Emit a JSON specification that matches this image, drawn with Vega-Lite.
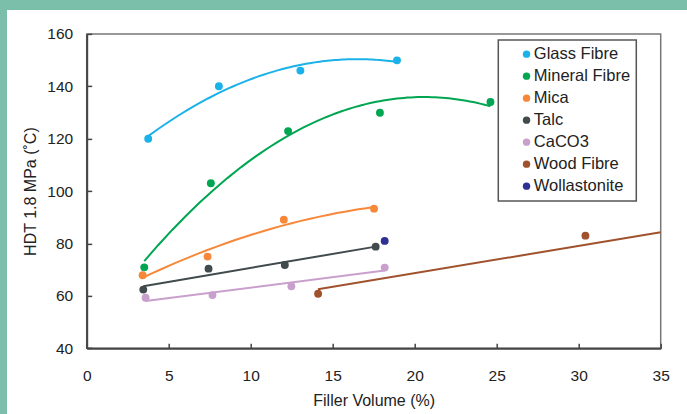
{
  "$schema": "https://vega.github.io/schema/vega-lite/v6.json",
  "width": 574,
  "height": 314.4,
  "autosize": {"type": "none"},
  "padding": {"left": 86.7, "top": 33.9, "right": 26.3, "bottom": 65.7},
  "background": "#7bbeaa",
  "config": {
    "font": "Liberation Sans",
    "view": {"stroke": null},
    "axis": {
      "grid": false,
      "domainColor": "#444",
      "domainWidth": 2,
      "tickColor": "#444",
      "tickWidth": 1.5,
      "tickSize": -5,
      "labelFontSize": 15.5,
      "labelColor": "#222",
      "titleFontSize": 16,
      "titleFontWeight": "normal",
      "titleColor": "#222"
    },
    "axisX": {"labelPadding": 25, "titlePadding": 9, "labelFlush": false},
    "axisY": {"labelPadding": 19, "titlePadding": 8},
    "legend": {"strokeWidth": 1.5}
  },
  "datasets": {
    "pts": [
      {"series": "Glass Fibre", "vol": 3.75, "hdt": 120.0},
      {"series": "Glass Fibre", "vol": 8.06, "hdt": 140.0},
      {"series": "Glass Fibre", "vol": 13.03, "hdt": 146.0},
      {"series": "Glass Fibre", "vol": 18.92, "hdt": 149.9},
      {"series": "Mineral Fibre", "vol": 3.51, "hdt": 70.9},
      {"series": "Mineral Fibre", "vol": 7.57, "hdt": 103.0},
      {"series": "Mineral Fibre", "vol": 12.28, "hdt": 122.9},
      {"series": "Mineral Fibre", "vol": 17.88, "hdt": 129.9},
      {"series": "Mineral Fibre", "vol": 24.62, "hdt": 134.0},
      {"series": "Mica", "vol": 3.41, "hdt": 67.9},
      {"series": "Mica", "vol": 7.37, "hdt": 75.0},
      {"series": "Mica", "vol": 12.02, "hdt": 89.1},
      {"series": "Mica", "vol": 17.52, "hdt": 93.3},
      {"series": "Talc", "vol": 3.45, "hdt": 62.4},
      {"series": "Talc", "vol": 7.43, "hdt": 70.4},
      {"series": "Talc", "vol": 12.08, "hdt": 71.8},
      {"series": "Talc", "vol": 17.62, "hdt": 78.8},
      {"series": "CaCO3", "vol": 3.59, "hdt": 59.3},
      {"series": "CaCO3", "vol": 7.67, "hdt": 60.3},
      {"series": "CaCO3", "vol": 12.48, "hdt": 63.7},
      {"series": "CaCO3", "vol": 18.17, "hdt": 70.8},
      {"series": "Wood Fibre", "vol": 14.11, "hdt": 60.8},
      {"series": "Wood Fibre", "vol": 30.41, "hdt": 83.0},
      {"series": "Wollastonite", "vol": 18.17, "hdt": 81.0}
    ],
    "woodTrend": [
      {"series": "Wood Fibre", "vol": 14.1, "hdt": 62.5},
      {"series": "Wood Fibre", "vol": 35, "hdt": 84.3}
    ]
  },
  "layer": [
    {
      "data": {"values": [{}]},
      "mark": {"type": "rect", "fill": "white", "clip": false},
      "encoding": {
        "x": {"datum": -4.86, "type": "quantitative", "scale": {"domain": [0, 35], "nice": false, "zero": false}, "axis": {"title": "Filler Volume (%)", "zindex": 1, "values": [0, 5, 10, 15, 20, 25, 30, 35]}},
        "x2": {"datum": 40},
        "y": {"datum": 169.1, "type": "quantitative", "scale": {"domain": [40, 160], "nice": false, "zero": false}, "axis": {"title": "HDT 1.8 MPa (˚C)", "zindex": 1, "values": [40, 60, 80, 100, 120, 140, 160]}},
        "y2": {"datum": 10}
      }
    },
    {
      "data": {"values": [{}]},
      "mark": {"type": "rect", "fillOpacity": 0, "stroke": "#777", "strokeWidth": 1.5},
      "encoding": {
        "x": {"datum": 0, "type": "quantitative", "axis": {"title": "Filler Volume (%)", "zindex": 1, "values": [0, 5, 10, 15, 20, 25, 30, 35]}},
        "x2": {"datum": 35},
        "y": {"datum": 40, "type": "quantitative", "axis": {"title": "HDT 1.8 MPa (˚C)", "zindex": 1, "values": [40, 60, 80, 100, 120, 140, 160]}},
        "y2": {"datum": 160}
      }
    },
    {
      "data": {"name": "pts"},
      "transform": [
        {"filter": "indexof(['Glass Fibre','Mineral Fibre','Mica'], datum.series) >= 0"},
        {"regression": "hdt", "on": "vol", "groupby": ["series"], "method": "poly", "order": 2}
      ],
      "mark": {"type": "line", "strokeWidth": 2},
      "encoding": {
        "x": {"field": "vol", "type": "quantitative", "axis": {"title": "Filler Volume (%)", "zindex": 1, "values": [0, 5, 10, 15, 20, 25, 30, 35]}},
        "y": {"field": "hdt", "type": "quantitative", "axis": {"title": "HDT 1.8 MPa (˚C)", "zindex": 1, "values": [40, 60, 80, 100, 120, 140, 160]}},
        "color": {"field": "series", "type": "nominal", "legend": {"title": null}}
      }
    },
    {
      "data": {"name": "pts"},
      "transform": [
        {"filter": "indexof(['Talc','CaCO3'], datum.series) >= 0"},
        {"regression": "hdt", "on": "vol", "groupby": ["series"], "method": "linear"}
      ],
      "mark": {"type": "line", "strokeWidth": 2},
      "encoding": {
        "x": {"field": "vol", "type": "quantitative", "axis": {"title": "Filler Volume (%)", "zindex": 1, "values": [0, 5, 10, 15, 20, 25, 30, 35]}},
        "y": {"field": "hdt", "type": "quantitative", "axis": {"title": "HDT 1.8 MPa (˚C)", "zindex": 1, "values": [40, 60, 80, 100, 120, 140, 160]}},
        "color": {"field": "series", "type": "nominal", "legend": {"title": null}}
      }
    },
    {
      "data": {"name": "woodTrend"},
      "mark": {"type": "line", "strokeWidth": 2},
      "encoding": {
        "x": {"field": "vol", "type": "quantitative", "axis": {"title": "Filler Volume (%)", "zindex": 1, "values": [0, 5, 10, 15, 20, 25, 30, 35]}},
        "y": {"field": "hdt", "type": "quantitative", "axis": {"title": "HDT 1.8 MPa (˚C)", "zindex": 1, "values": [40, 60, 80, 100, 120, 140, 160]}},
        "color": {"field": "series", "type": "nominal", "legend": {"title": null}}
      }
    },
    {
      "data": {"name": "pts"},
      "mark": {"type": "point", "filled": true, "opacity": 1, "size": 62, "shape": "circle"},
      "encoding": {
        "x": {"field": "vol", "type": "quantitative", "axis": {"title": "Filler Volume (%)", "zindex": 1, "values": [0, 5, 10, 15, 20, 25, 30, 35]}},
        "y": {"field": "hdt", "type": "quantitative", "axis": {"title": "HDT 1.8 MPa (˚C)", "zindex": 1, "values": [40, 60, 80, 100, 120, 140, 160]}},
        "color": {
          "field": "series", "type": "nominal",
          "scale": {
            "domain": ["Glass Fibre", "Mineral Fibre", "Mica", "Talc", "CaCO3", "Wood Fibre", "Wollastonite"],
            "range": ["#1ab2e8", "#00a651", "#f7883a", "#414a4c", "#c9a0cc", "#a0522d", "#2e3192"]
          },
          "legend": {
            "title": null,
            "orient": "none",
            "legendX": 411.6,
            "legendY": 6,
            "padding": 6,
            "symbolOffset": 14,
            "symbolType": "circle",
            "symbolSize": 55,
            "symbolStrokeWidth": 0,
            "symbolOpacity": 1,
            "labelFontSize": 16.5,
            "labelColor": "#222",
            "labelOffset": -1,
            "rowPadding": 5,
            "strokeColor": "#555",
            "fillColor": "white",
            "zindex": 1
          }
        }
      }
    }
  ]
}
